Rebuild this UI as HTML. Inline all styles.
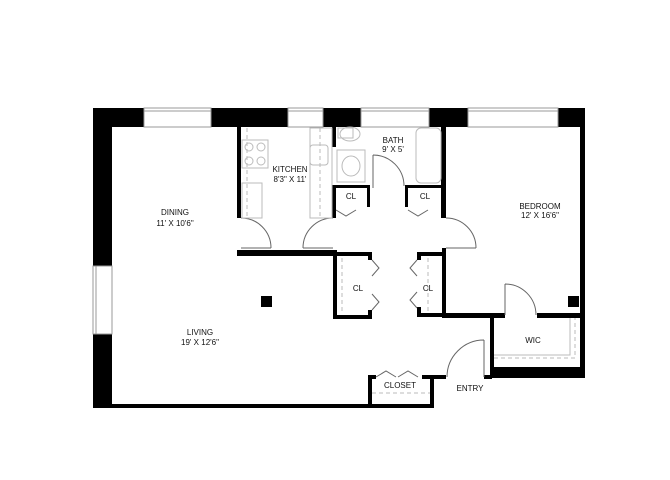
<!DOCTYPE html>
<html><head><meta charset="utf-8"><style>
html,body{margin:0;padding:0;background:#fff;}
svg{display:block;}
text{font-family:"Liberation Sans",sans-serif;font-size:8px;fill:#111;text-anchor:middle;}
</style></head><body>
<svg width="670" height="480" viewBox="0 0 670 480" xmlns="http://www.w3.org/2000/svg">
<rect width="670" height="480" fill="#fff"/>
<!-- top wall segments -->
<g fill="#000">
<rect x="93" y="108" width="51" height="19"/>
<rect x="211" y="108" width="77" height="19"/>
<rect x="323" y="108" width="38" height="19"/>
<rect x="429" y="108" width="39" height="19"/>
<rect x="558" y="108" width="27" height="19"/>
<!-- left wall -->
<rect x="93" y="108" width="19" height="158"/>
<rect x="93" y="334" width="19" height="74"/>
<!-- bottom wall -->
<rect x="93" y="404" width="341" height="4"/>
<!-- right wall -->
<rect x="580" y="108" width="5" height="270"/>
<!-- kitchen walls -->
<rect x="237" y="127" width="4" height="91"/>
<rect x="237" y="250" width="100" height="6"/>
<rect x="332" y="127" width="4" height="20"/>
<rect x="332" y="185" width="4" height="33"/>
<!-- bath -->
<rect x="333" y="185" width="3" height="27"/>
<rect x="333" y="185" width="37" height="3"/>
<rect x="367" y="185" width="3" height="22"/>
<rect x="405" y="185" width="3" height="22"/>
<rect x="405" y="185" width="40" height="3"/>
<rect x="441" y="127" width="5" height="91"/>
<rect x="441" y="205" width="5" height="13"/>
<!-- middle closets -->
<rect x="333" y="252" width="4" height="67"/>
<rect x="333" y="252" width="39" height="4"/>
<rect x="368" y="252" width="4" height="8"/>
<rect x="368" y="310" width="4" height="9"/>
<rect x="333" y="315" width="39" height="4"/>
<rect x="417" y="252" width="4" height="8"/>
<rect x="417" y="307" width="4" height="9"/>
<rect x="417" y="252" width="29" height="4"/>
<rect x="417" y="313" width="29" height="4"/>
<rect x="442" y="248" width="4" height="69"/>
<!-- bedroom bottom wall -->
<rect x="442" y="313" width="63" height="5"/>
<rect x="537" y="313" width="45" height="5"/>
<!-- WIC -->
<rect x="490" y="313" width="4" height="65"/>
<rect x="490" y="367" width="95" height="11"/>
<!-- closet -->
<rect x="368" y="375" width="4" height="33"/>
<rect x="368" y="375" width="8" height="4"/>
<rect x="422" y="375" width="24" height="4"/>
<rect x="430" y="375" width="4" height="33"/>
<rect x="484" y="375" width="8" height="4"/>
<!-- columns -->
<rect x="261" y="296" width="11" height="11"/>
<rect x="568" y="296" width="11" height="11"/>
</g>
<!-- windows -->
<g fill="none" stroke="#999" stroke-width="1">
<rect x="144" y="108" width="67" height="19"/>
<line x1="144" y1="111" x2="211" y2="111"/>
<rect x="288" y="108" width="35" height="19"/>
<line x1="288" y1="111" x2="323" y2="111"/>
<rect x="361" y="108" width="68" height="19"/>
<line x1="361" y1="111" x2="429" y2="111"/>
<rect x="468" y="108" width="90" height="19"/>
<line x1="468" y1="111" x2="558" y2="111"/>
<rect x="93" y="266" width="19" height="68"/>
<line x1="96" y1="266" x2="96" y2="334"/>
</g>
<!-- doors -->
<g fill="none" stroke="#666" stroke-width="1">
<path d="M241 218 A30 30 0 0 1 271 248 M241 248 H271"/>
<path d="M333 218 A30 30 0 0 0 303 248 M303 248 H333"/>
<path d="M373 155 A31 31 0 0 1 404 186 M373 155 V188"/>
<path d="M446 218 A30 30 0 0 1 476 248 M446 248 H476"/>
<path d="M505 284 A31 31 0 0 1 536 315 M505 284 V315"/>
<path d="M484 340 A37 37 0 0 0 447 377 M484 340 V377"/>
<path d="M336 210 l10 6 l10 -6 M408 210 l10 6 l10 -6"/>
<path d="M372 260 l7 8 l-7 8 M372 294 l7 8 l-7 8"/>
<path d="M417 260 l-7 8 l7 8 M417 292 l-7 8 l7 8"/>
<path d="M376 377 l10 -6 l10 6 M398 377 l10 -6 l10 6"/>
</g>
<!-- fixtures -->
<g fill="none" stroke="#bbb" stroke-width="1">
<rect x="242" y="140" width="26" height="28"/>
<circle cx="249" cy="147" r="4"/><circle cx="261" cy="147" r="4"/>
<circle cx="249" cy="161" r="4"/><circle cx="261" cy="161" r="4"/>
<rect x="242" y="183" width="20" height="35"/>
<rect x="310" y="128" width="22" height="90"/>
<rect x="310" y="145" width="18" height="20" rx="3"/>
<rect x="338" y="128" width="15" height="10"/>
<ellipse cx="350" cy="134" rx="10" ry="7"/>
<rect x="337" y="150" width="28" height="32"/>
<ellipse cx="351" cy="166" rx="9" ry="10"/>
<rect x="416" y="128" width="25" height="55" rx="5"/>
<line x1="247" y1="128" x2="247" y2="218" stroke-dasharray="4 3"/>
<line x1="320" y1="128" x2="320" y2="218" stroke-dasharray="4 3"/>
<line x1="342" y1="258" x2="342" y2="314" stroke-dasharray="4 3"/>
<line x1="428" y1="258" x2="428" y2="312" stroke-dasharray="4 3"/>
<line x1="372" y1="393" x2="430" y2="393" stroke-dasharray="4 3"/>
<path d="M494 358 H575 V318" stroke-dasharray="4 3"/>
<path d="M494 355 H570 V318"/>
</g>
<!-- labels -->
<text x="175" y="215">DINING</text><text x="175" y="226">11' X 10'6"</text>
<text x="290" y="172">KITCHEN</text><text x="290" y="182">8'3" X 11'</text>
<text x="393" y="143">BATH</text><text x="393" y="152">9' X 5'</text>
<text x="351" y="199">CL</text><text x="425" y="199">CL</text>
<text x="540" y="209">BEDROOM</text><text x="540" y="218">12' X 16'6"</text>
<text x="358" y="291">CL</text><text x="428" y="291">CL</text>
<text x="200" y="335">LIVING</text><text x="200" y="345">19' X 12'6"</text>
<text x="533" y="343">WIC</text>
<text x="400" y="388">CLOSET</text>
<text x="470" y="391">ENTRY</text>
</svg>
</body></html>
